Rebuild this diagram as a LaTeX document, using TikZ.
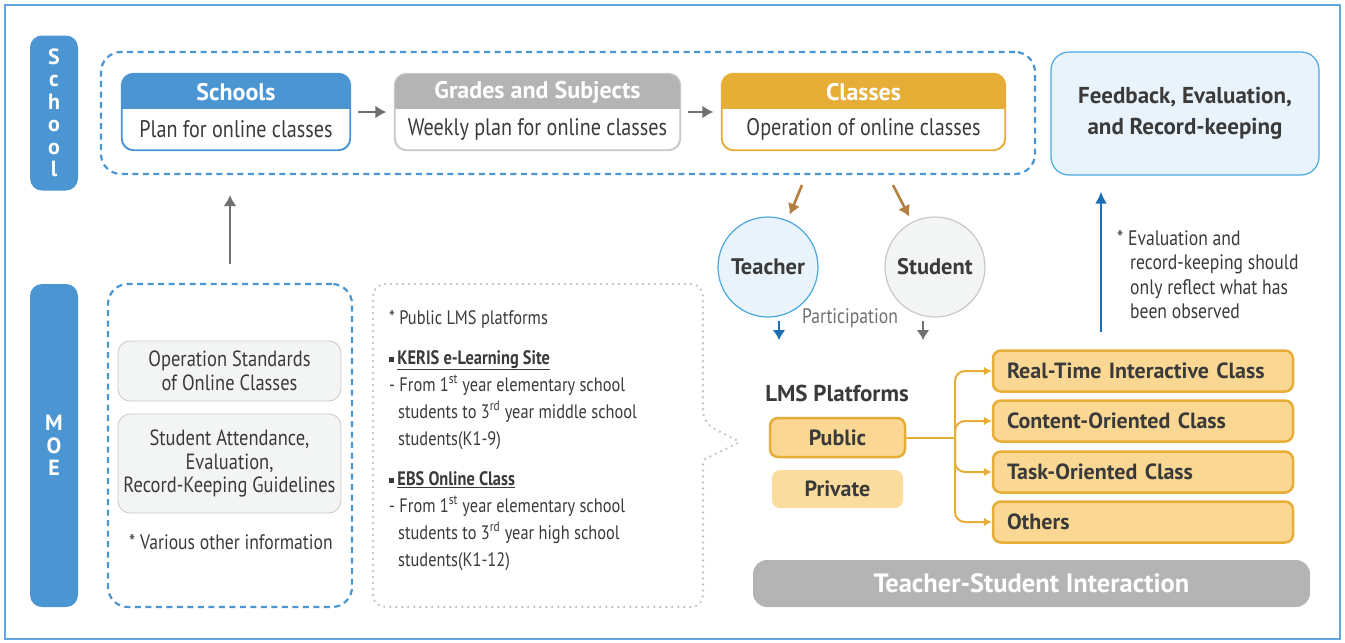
\documentclass[tikz,border=0pt]{standalone}
\usepackage{fontspec}
\setmainfont{PT Sans}
\newfontfamily\condfont{PT Sans}[FakeStretch=0.84]
\newcommand{\subheadfont}{\fontsize{19.5}{27}\selectfont\bfseries}
\usepackage{xcolor}
\usetikzlibrary{positioning,arrows.meta}

\definecolor{moeblue}{HTML}{4A95D2}
\definecolor{lineblue}{HTML}{4AA8E0}
\definecolor{paleblue}{HTML}{E8F3FB}
\definecolor{darkblue}{HTML}{1B6EB5}
\definecolor{headgray}{HTML}{B4B4B4}
\definecolor{boxgray}{HTML}{C8C8C8}
\definecolor{palegray}{HTML}{F3F4F4}
\definecolor{gold}{HTML}{E6AE37}
\definecolor{paleorange}{HTML}{FAD894}
\definecolor{tan}{HTML}{B5803F}
\definecolor{txt}{HTML}{3A3A3A}
\definecolor{arrowgray}{HTML}{707070}
\definecolor{dotgray}{HTML}{C4C4C4}

\begin{document}
\begin{tikzpicture}[x=1pt,y=-1pt,
    pill/.style={fill=moeblue, rounded corners=12, text=white, align=center, font=\fontsize{22}{22.5}\selectfont\bfseries},
    dashframe/.style={draw=moeblue, line width=2.2, dash pattern=on 6pt off 4.5pt, rounded corners=20},
    stagebox/.style={draw, fill=white, rounded corners=12, line width=1.2},
    headtext/.style={text=white, font=\fontsize{24}{26}\selectfont\bfseries},
    bodytext/.style={text=txt, font=\condfont\fontsize{24}{26}\selectfont},
    grayarrow/.style={-{Latex[length=11pt,width=13pt]}, draw=arrowgray, line width=2.6},
    tanarrow/.style={-{Latex[length=11pt,width=13pt]}, draw=tan, line width=2.6},
    roundnode/.style={circle, minimum size=100, line width=1.2, text=txt, font=\fontsize{22.5}{24}\selectfont\bfseries},
    graybox/.style={fill=palegray, draw=boxgray, rounded corners=12, line width=0.8, text=txt, align=center, font=\condfont\fontsize{22}{23.5}\selectfont},
    orangebox/.style={fill=paleorange, draw=gold, line width=2.5, rounded corners=8, text=txt, font=\fontsize{22}{24}\selectfont\bfseries},
    classbox/.style={orangebox, minimum height=41, text width=272, inner xsep=14, align=left},
    orangeline/.style={draw=gold, line width=2},
    orangearrow/.style={orangeline, -{Latex[length=8pt,width=9pt]}, rounded corners=10},
    smalltext/.style={text=txt, align=left, font=\condfont\fontsize{19.5}{27}\selectfont},
]
    \useasboundingbox (0,0) rectangle (1345,643);
    \draw[draw=moeblue!85, line width=1.5] (5,5) rectangle (1340,639);

    %Side labels
    \node[pill, minimum width=48, minimum height=155] (schoolpill) at (54,113) {S\\c\\h\\o\\o\\l};
    \node[pill, minimum width=48, minimum height=323] (moepill) at (54,445.5) {M\\O\\E};

    %School level
    \node[dashframe, minimum width=934, minimum height=122] (schoolframe) at (568,113) {};
    \foreach \x/\w/\name/\col/\bcol/\title/\body in {
        236/228/schools/moeblue/moeblue/Schools/Plan for online classes,
        537.5/285/grades/headgray/boxgray/Grades and Subjects/Weekly plan for online classes,
        863.5/283/classes/gold/gold/Classes/Operation of online classes}{
        \node[stagebox, draw=\bcol, minimum width=\w, minimum height=76] (\name) at (\x,112) {};
        \begin{scope}
            \clip[rounded corners=12] (\name.north west) rectangle (\name.south east);
            \fill[\col] (\name.north west) rectangle ([yshift=3pt]\name.east);
        \end{scope}
        \draw[\bcol, line width=1.2, rounded corners=12] (\name.north west) rectangle (\name.south east);
        \node[headtext] (\name title) at (\x,92) {\title};
        \node[bodytext] (\name body) at (\x,129) {\body};
    }
    \node[fill=paleblue, draw=lineblue, line width=1.2, rounded corners=18, minimum width=268, minimum height=123,
        align=center, text=txt, font=\fontsize{23}{31}\selectfont\bfseries] (feedback) at (1185,113.5)
        {Feedback, Evaluation,\\and Record-keeping};

    %Teacher and student
    \node[roundnode, fill=paleblue, draw=lineblue] (teacher) at (768,267) {Teacher};
    \node[roundnode, fill=palegray, draw=boxgray] (student) at (935,267) {Student};
    \node[text=arrowgray, font=\condfont\fontsize{21}{22}\selectfont] (participation) at (850,318) {Participation};
    \coordinate (tstart) at (802,185);
    \coordinate (sstart) at (893,185);
    \coordinate (tdown) at (779,340);
    \coordinate (sdown) at (923,340);
    \coordinate (fbstart) at (1101,332);

    %MOE level
    \node[dashframe, minimum width=244, minimum height=323] (moeframe) at (230,445.5) {};
    \node[graybox, minimum width=223, minimum height=60] (moestd) at (229.5,371) {Operation Standards\\of Online Classes};
    \node[graybox, minimum width=223, minimum height=99] (moeguide) at (229.5,463.5) {Student Attendance,\\Evaluation,\\Record-Keeping Guidelines};
    \node[text=txt, font=\condfont\fontsize{21}{22}\selectfont] (moenote) at (231,542) {* Various other information};

    %Public LMS callout
    \draw[dotgray, line width=2.6, dash pattern=on 0pt off 6pt, line cap=round, rounded corners=12]
        (373,284) -- (703,284) -- (703,423) [rounded corners=2] -- (740,442) -- (703,460) [rounded corners=12] -- (703,607) -- (373,607) -- cycle;
    \node[smalltext, anchor=north west, inner sep=0] (lmsnote) at (389,310) {%
        * Public LMS platforms\\[13pt]
        \rule[2pt]{5pt}{5pt}\,{\subheadfont\underline{KERIS e-Learning Site}}\\
        - From 1\textsuperscript{st} year elementary school\\
        \hspace*{9pt}students to 3\textsuperscript{rd} year middle school\\
        \hspace*{9pt}students(K1-9)\\[13pt]
        \rule[2pt]{5pt}{5pt}\,{\subheadfont\underline{EBS Online Class}}\\
        - From 1\textsuperscript{st} year elementary school\\
        \hspace*{9pt}students to 3\textsuperscript{rd} year high school\\
        \hspace*{9pt}students(K1-12)};

    %Feedback note
    \node[text=txt, align=left, anchor=north west, inner sep=0, font=\condfont\fontsize{21}{24.5}\selectfont] (fbnote) at (1117,230) {%
        * Evaluation and\\
        \hspace*{13pt}record-keeping should\\
        \hspace*{13pt}only reflect what has\\
        \hspace*{13pt}been observed};

    %LMS platforms
    \node[text=txt, font=\fontsize{23}{24}\selectfont\bfseries] (lmstitle) at (837,393) {LMS Platforms};
    \node[orangebox, minimum width=135, minimum height=39] (public) at (837.5,437.5) {Public};
    \node[fill=paleorange!90, rounded corners=8, minimum width=131, minimum height=38, text=txt,
        font=\fontsize{22}{24}\selectfont\bfseries] (private) at (837.5,489) {Private};
    \node[classbox] (realtime) at (1143,371) {Real-Time Interactive Class};
    \node[classbox] (content) at (1143,421) {Content-Oriented Class};
    \node[classbox] (task) at (1143,472) {Task-Oriented Class};
    \node[classbox] (others) at (1143,522) {Others};
    \coordinate (split) at (955,437.5);
    \node[fill=headgray, rounded corners=14, minimum width=557, minimum height=47, text=white,
        font=\fontsize{26.5}{28}\selectfont\bfseries] (interaction) at (1031.5,583.5) {Teacher-Student Interaction};

    %Lines
    \draw[grayarrow, shorten <=7pt, shorten >=8pt] (schools) -- (grades);
    \draw[grayarrow, shorten <=7pt, shorten >=8pt] (grades) -- (classes);
    \draw[grayarrow, shorten <=19pt, shorten >=20pt] (moeframe.north) -- (moeframe.north |- schoolframe.south);
    \draw[tanarrow, shorten >=6pt] (tstart) -- (teacher);
    \draw[tanarrow, shorten >=6pt] (sstart) -- (student);
    \draw[-{Latex[length=10pt,width=13pt]}, draw=darkblue, line width=2.8] (tdown |- teacher.south) ++(0,3) -- (tdown);
    \draw[-{Latex[length=10pt,width=13pt]}, draw=arrowgray, line width=2.8] (sdown |- student.south) ++(0,3) -- (sdown);
    \draw[-{Latex[length=12pt,width=12pt]}, draw=darkblue, line width=2.4, shorten >=16pt] (fbstart) -- (fbstart |- feedback.south);
    \draw[orangeline] (public.east) -- (split);
    \draw[orangearrow] (split) |- (realtime.west);
    \draw[orangearrow] (split) |- (content.west);
    \draw[orangearrow] (split) |- (task.west);
    \draw[orangearrow] (split) |- (others.west);
\end{tikzpicture}
\end{document}
